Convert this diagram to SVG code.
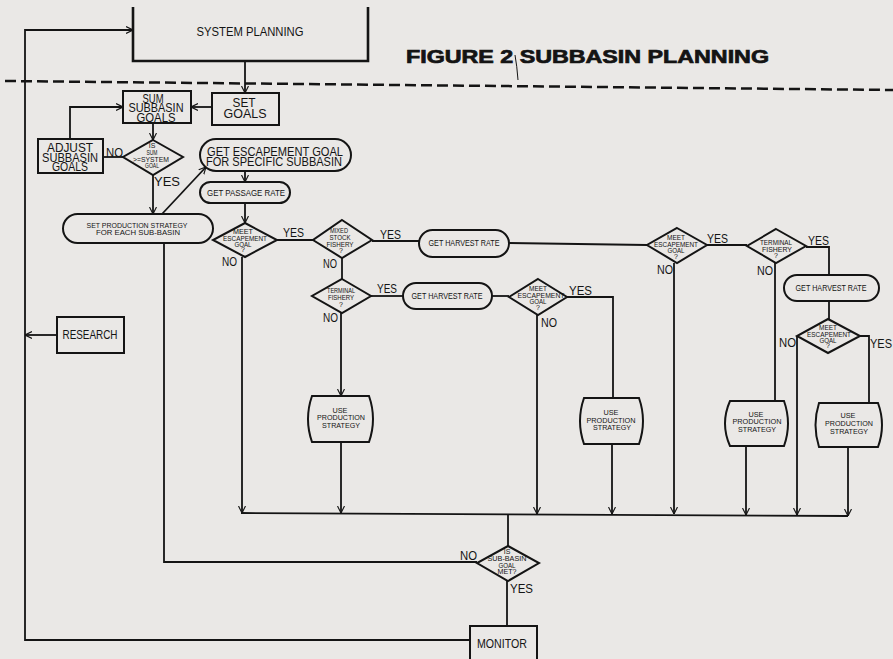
<svg xmlns="http://www.w3.org/2000/svg" width="893" height="659" viewBox="0 0 893 659">
<defs>
<style>
.bg{fill:#eae8e6}
.ln{fill:none;stroke:#141414;stroke-width:1.8;stroke-linejoin:miter}
.bx{fill:none;stroke:#141414;stroke-width:2}
.t{font-family:"Liberation Sans",Arial,sans-serif;fill:#141414;text-anchor:middle}
.s13{font-size:13px}
.s12{font-size:12px}
.s9{font-size:9px}
.s8{font-size:8px}
.s7{font-size:7px}
.lab{font-family:"Liberation Sans",Arial,sans-serif;fill:#141414;font-size:12px}
</style>
<marker id="ah" markerUnits="userSpaceOnUse" viewBox="0 0 10 10" refX="10" refY="5" markerWidth="7" markerHeight="9" orient="auto">
<path d="M0,0 L10,5 L0,10" fill="none" stroke="#141414" stroke-width="1.6"/>
</marker>
</defs>
<rect class="bg" x="0" y="0" width="893" height="659"/>

<!-- title and separator -->
<g id="title">
<text x="406" y="63" font-family="Liberation Sans,Arial,sans-serif" font-weight="bold" font-size="18" fill="#141414" stroke="#141414" stroke-width="0.7" textLength="363" lengthAdjust="spacingAndGlyphs">FIGURE 2 SUBBASIN PLANNING</text>
<path d="M515,55 Q517,66 518,80" fill="none" stroke="#141414" stroke-width="1"/>
</g>
<line id="separator" x1="5" y1="81" x2="893" y2="90" stroke="#141414" stroke-width="2.5" stroke-dasharray="11 5"/>

<!-- connectors -->
<g id="connectors">
<path class="ln" d="M470,640 H25 V30 H133" marker-end="url(#ah)"/>
<path class="ln" d="M245,61 V93" marker-end="url(#ah)"/>
<path class="ln" d="M212,107 H191" marker-end="url(#ah)"/>
<path class="ln" d="M70,139 V107 H123" marker-end="url(#ah)"/>
<path class="ln" d="M153,123 V140" marker-end="url(#ah)"/>
<path class="ln" d="M123,157 H103"/>
<path class="ln" d="M153,175 V214" marker-end="url(#ah)"/>
<path class="ln" d="M162,214 L206,167" marker-end="url(#ah)"/>
<path class="ln" d="M245,171 V182" marker-end="url(#ah)"/>
<path class="ln" d="M245,203 V223" marker-end="url(#ah)"/>
<path class="ln" d="M242,257 V513" marker-end="url(#ah)"/>
<path class="ln" d="M277,240 H313"/>
<path class="ln" d="M372,241 H419"/>
<path class="ln" d="M509,243 L647,245"/>
<path class="ln" d="M674,263 V514" marker-end="url(#ah)"/>
<path class="ln" d="M707,245 H747"/>
<path class="ln" d="M775,263 V401"/>
<path class="ln" d="M806,247 H829 V275"/>
<path class="ln" d="M829,301 V319"/>
<path class="ln" d="M797,336 V515" marker-end="url(#ah)"/>
<path class="ln" d="M860,336 H869 V403"/>
<path class="ln" d="M848,447 V516" marker-end="url(#ah)"/>
<path class="ln" d="M342,258 V279"/>
<path class="ln" d="M371,296 H403"/>
<path class="ln" d="M492,296 H509"/>
<path class="ln" d="M537,315 V514" marker-end="url(#ah)"/>
<path class="ln" d="M567,297 H613 V398"/>
<path class="ln" d="M341,313 V396" marker-end="url(#ah)"/>
<path class="ln" d="M341,442 V513" marker-end="url(#ah)"/>
<path class="ln" d="M612,444 V514" marker-end="url(#ah)"/>
<path class="ln" d="M746,446 V515" marker-end="url(#ah)"/>
<path class="ln" d="M241,513 L848,516"/>
<path class="ln" d="M508,514 V546"/>
<path class="ln" d="M164,243 V562 H477"/>
<path class="ln" d="M507,581 V626"/>
<path class="ln" d="M57,335 H25" marker-end="url(#ah)"/>
</g>

<!-- nodes -->
<g id="n-system-planning">
<path d="M133,7 V61 H368 V7" fill="none" stroke="#141414" stroke-width="2.6"/>
<text class="t s12" x="250" y="36" textLength="107" lengthAdjust="spacingAndGlyphs">SYSTEM PLANNING</text>
</g>
<g id="n-sum-goals">
<rect class="bx" x="123" y="91" width="68" height="32"/>
<text class="t s12" x="153" y="102.5" textLength="21" lengthAdjust="spacingAndGlyphs">SUM</text>
<text class="t s12" x="156" y="112" textLength="55" lengthAdjust="spacingAndGlyphs">SUBBASIN</text>
<text class="t s12" x="156" y="121.5" textLength="39" lengthAdjust="spacingAndGlyphs">GOALS</text>
</g>
<g id="n-set-goals">
<rect class="bx" x="212" y="93" width="67" height="32"/>
<text class="t s13" x="244" y="107" textLength="23" lengthAdjust="spacingAndGlyphs">SET</text>
<text class="t s13" x="245" y="118" textLength="43" lengthAdjust="spacingAndGlyphs">GOALS</text>
</g>
<g id="n-adjust">
<rect class="bx" x="38" y="139" width="65" height="34"/>
<text class="t s12" x="70" y="152" textLength="46" lengthAdjust="spacingAndGlyphs">ADJUST</text>
<text class="t s12" x="70" y="162" textLength="56" lengthAdjust="spacingAndGlyphs">SUBBASIN</text>
<text class="t s12" x="70" y="171" textLength="36" lengthAdjust="spacingAndGlyphs">GOALS</text>
</g>
<g id="n-is-sum">
<polygon class="bx" points="153,140 183,157 153,175 123,157"/>
<text class="t s7" x="152" y="148">IS</text>
<text class="t s7" x="152" y="155" textLength="11" lengthAdjust="spacingAndGlyphs">SUM</text>
<text class="t s7" x="151" y="162" textLength="36" lengthAdjust="spacingAndGlyphs">&gt;=SYSTEM</text>
<text class="t s7" x="152" y="168" textLength="14" lengthAdjust="spacingAndGlyphs">GOAL</text>
</g>
<g id="n-get-escapement">
<rect class="bx" x="200" y="139" width="151" height="32" rx="16"/>
<text class="t s13" x="275" y="156" textLength="136" lengthAdjust="spacingAndGlyphs">GET ESCAPEMENT GOAL</text>
<text class="t s13" x="274" y="166" textLength="136" lengthAdjust="spacingAndGlyphs">FOR SPECIFIC SUBBASIN</text>
</g>
<g id="n-passage">
<rect class="bx" x="200" y="182" width="90" height="21" rx="10.5"/>
<text class="t s9" x="246" y="196" textLength="78" lengthAdjust="spacingAndGlyphs">GET PASSAGE RATE</text>
</g>
<g id="n-set-production">
<rect class="bx" x="63" y="214" width="150" height="29" rx="14.5"/>
<text class="t s8" x="137" y="228" textLength="101" lengthAdjust="spacingAndGlyphs">SET PRODUCTION STRATEGY</text>
<text class="t s8" x="138" y="235" textLength="84" lengthAdjust="spacingAndGlyphs">FOR EACH SUB-BASIN</text>
</g>
<g id="n-research">
<rect class="bx" x="57" y="317" width="67" height="36"/>
<text class="t s13" x="90" y="339" textLength="55" lengthAdjust="spacingAndGlyphs">RESEARCH</text>
</g>
<g id="n-meet1">
<polygon class="bx" points="245,223 277,240 245,257 213,240"/>
<text class="t s7" x="243" y="234" textLength="20" lengthAdjust="spacingAndGlyphs">MEET</text>
<text class="t s7" x="245" y="241" textLength="44" lengthAdjust="spacingAndGlyphs">ESCAPEMENT</text>
<text class="t s7" x="243" y="247" textLength="17" lengthAdjust="spacingAndGlyphs">GOAL</text>
<text class="t s7" x="243" y="252">?</text>
</g>
<g id="n-mixed">
<polygon class="bx" points="342,220 372,240 342,258 313,240"/>
<text class="t s7" x="339" y="233" textLength="18" lengthAdjust="spacingAndGlyphs">MIXED</text>
<text class="t s7" x="340" y="240" textLength="21" lengthAdjust="spacingAndGlyphs">STOCK</text>
<text class="t s7" x="340" y="247" textLength="27" lengthAdjust="spacingAndGlyphs">FISHERY</text>
<text class="t s7" x="341" y="253">?</text>
</g>
<g id="n-ghr1">
<rect class="bx" x="419" y="230" width="90" height="27" rx="13.5"/>
<text class="t s9" x="464" y="246" textLength="71" lengthAdjust="spacingAndGlyphs">GET HARVEST RATE</text>
</g>
<g id="n-term1">
<polygon class="bx" points="342,279 371,296 342,313 312,296"/>
<text class="t s7" x="341" y="293" textLength="28" lengthAdjust="spacingAndGlyphs">TERMINAL</text>
<text class="t s7" x="341" y="300" textLength="26" lengthAdjust="spacingAndGlyphs">FISHERY</text>
<text class="t s7" x="341" y="307">?</text>
</g>
<g id="n-ghr2">
<rect class="bx" x="403" y="283" width="89" height="26" rx="13"/>
<text class="t s9" x="447" y="299" textLength="71" lengthAdjust="spacingAndGlyphs">GET HARVEST RATE</text>
</g>
<g id="n-meet3">
<polygon class="bx" points="538,279 567,297 538,315 509,297"/>
<text class="t s7" x="538" y="291" textLength="18" lengthAdjust="spacingAndGlyphs">MEET</text>
<text class="t s7" x="541" y="298" textLength="47" lengthAdjust="spacingAndGlyphs">ESCAPEMENT</text>
<text class="t s7" x="538" y="304" textLength="17" lengthAdjust="spacingAndGlyphs">GOAL</text>
<text class="t s7" x="538" y="310">?</text>
</g>
<g id="n-meet2">
<polygon class="bx" points="677,228 707,245 677,263 647,245"/>
<text class="t s7" x="676" y="240" textLength="18" lengthAdjust="spacingAndGlyphs">MEET</text>
<text class="t s7" x="676" y="247" textLength="44" lengthAdjust="spacingAndGlyphs">ESCAPEMENT</text>
<text class="t s7" x="676" y="253" textLength="17" lengthAdjust="spacingAndGlyphs">GOAL</text>
<text class="t s7" x="676" y="259">?</text>
</g>
<g id="n-term2">
<polygon class="bx" points="776,229 806,246 776,263 747,246"/>
<text class="t s7" x="776" y="245" textLength="32" lengthAdjust="spacingAndGlyphs">TERMINAL</text>
<text class="t s7" x="777" y="252" textLength="30" lengthAdjust="spacingAndGlyphs">FISHERY</text>
<text class="t s7" x="776" y="258">?</text>
</g>
<g id="n-ghr3">
<rect class="bx" x="784" y="275" width="95" height="26" rx="13"/>
<text class="t s9" x="831" y="291" textLength="71" lengthAdjust="spacingAndGlyphs">GET HARVEST RATE</text>
</g>
<g id="n-meet4">
<polygon class="bx" points="828,319 860,336 828,353 797,336"/>
<text class="t s7" x="828" y="330" textLength="18" lengthAdjust="spacingAndGlyphs">MEET</text>
<text class="t s7" x="829" y="337" textLength="44" lengthAdjust="spacingAndGlyphs">ESCAPEMENT</text>
<text class="t s7" x="828" y="343" textLength="17" lengthAdjust="spacingAndGlyphs">GOAL</text>
<text class="t s7" x="828" y="348">?</text>
</g>
<g id="n-use1">
<path class="bx" d="M312,396 H369 Q377,419 369,442 H312 Q304,419 312,396 Z"/>
<text class="t s7" x="340" y="413" textLength="15" lengthAdjust="spacingAndGlyphs">USE</text>
<text class="t s7" x="341" y="420" textLength="48" lengthAdjust="spacingAndGlyphs">PRODUCTION</text>
<text class="t s7" x="341" y="428" textLength="38" lengthAdjust="spacingAndGlyphs">STRATEGY</text>
</g>
<g id="n-use2">
<path class="bx" d="M584,398 H639 Q647,421 639,444 H584 Q576,421 584,398 Z"/>
<text class="t s7" x="611" y="415" textLength="15" lengthAdjust="spacingAndGlyphs">USE</text>
<text class="t s7" x="611" y="423" textLength="49" lengthAdjust="spacingAndGlyphs">PRODUCTION</text>
<text class="t s7" x="612" y="430" textLength="38" lengthAdjust="spacingAndGlyphs">STRATEGY</text>
</g>
<g id="n-use3">
<path class="bx" d="M730,401 H784 Q792,423.5 784,446 H730 Q720,423.5 730,401 Z"/>
<text class="t s7" x="756" y="417" textLength="15" lengthAdjust="spacingAndGlyphs">USE</text>
<text class="t s7" x="757" y="424" textLength="49" lengthAdjust="spacingAndGlyphs">PRODUCTION</text>
<text class="t s7" x="757" y="432" textLength="38" lengthAdjust="spacingAndGlyphs">STRATEGY</text>
</g>
<g id="n-use4">
<path class="bx" d="M819,403 H878 Q886,425 878,447 H819 Q812,425 819,403 Z"/>
<text class="t s7" x="848" y="418" textLength="15" lengthAdjust="spacingAndGlyphs">USE</text>
<text class="t s7" x="849" y="426" textLength="48" lengthAdjust="spacingAndGlyphs">PRODUCTION</text>
<text class="t s7" x="849" y="434" textLength="38" lengthAdjust="spacingAndGlyphs">STRATEGY</text>
</g>
<g id="n-subbasin">
<polygon class="bx" points="508,546 539,563 508,581 477,563"/>
<text class="t s7" x="507" y="554">IS</text>
<text class="t s7" x="507" y="561" textLength="39" lengthAdjust="spacingAndGlyphs">SUB-BASIN</text>
<text class="t s7" x="507" y="568" textLength="17" lengthAdjust="spacingAndGlyphs">GOAL</text>
<text class="t s7" x="507" y="574" textLength="19" lengthAdjust="spacingAndGlyphs">MET?</text>
</g>
<g id="n-monitor">
<rect class="bx" x="470" y="626" width="67" height="34"/>
<text class="t s13" x="502" y="648" textLength="50" lengthAdjust="spacingAndGlyphs">MONITOR</text>
</g>

<!-- branch labels -->
<g id="labels">
<text class="lab" x="106" y="157" textLength="17" lengthAdjust="spacingAndGlyphs">NO</text>
<text class="lab" x="154" y="186" textLength="26" lengthAdjust="spacingAndGlyphs">YES</text>
<text class="lab" x="283" y="237" textLength="21" lengthAdjust="spacingAndGlyphs">YES</text>
<text class="lab" x="222" y="266" textLength="15" lengthAdjust="spacingAndGlyphs">NO</text>
<text class="lab" x="380" y="239" textLength="21" lengthAdjust="spacingAndGlyphs">YES</text>
<text class="lab" x="323" y="268" textLength="14" lengthAdjust="spacingAndGlyphs">NO</text>
<text class="lab" x="377" y="293" textLength="20" lengthAdjust="spacingAndGlyphs">YES</text>
<text class="lab" x="323" y="322" textLength="15" lengthAdjust="spacingAndGlyphs">NO</text>
<text class="lab" x="569" y="295" textLength="23" lengthAdjust="spacingAndGlyphs">YES</text>
<text class="lab" x="541" y="327" textLength="16" lengthAdjust="spacingAndGlyphs">NO</text>
<text class="lab" x="707" y="243" textLength="21" lengthAdjust="spacingAndGlyphs">YES</text>
<text class="lab" x="657" y="274" textLength="16" lengthAdjust="spacingAndGlyphs">NO</text>
<text class="lab" x="808" y="245" textLength="21" lengthAdjust="spacingAndGlyphs">YES</text>
<text class="lab" x="757" y="275" textLength="16" lengthAdjust="spacingAndGlyphs">NO</text>
<text class="lab" x="779" y="347" textLength="17" lengthAdjust="spacingAndGlyphs">NO</text>
<text class="lab" x="870" y="348" textLength="22" lengthAdjust="spacingAndGlyphs">YES</text>
<text class="lab" x="460" y="560" textLength="17" lengthAdjust="spacingAndGlyphs">NO</text>
<text class="lab" x="510" y="593" textLength="23" lengthAdjust="spacingAndGlyphs">YES</text>
</g>
</svg>
